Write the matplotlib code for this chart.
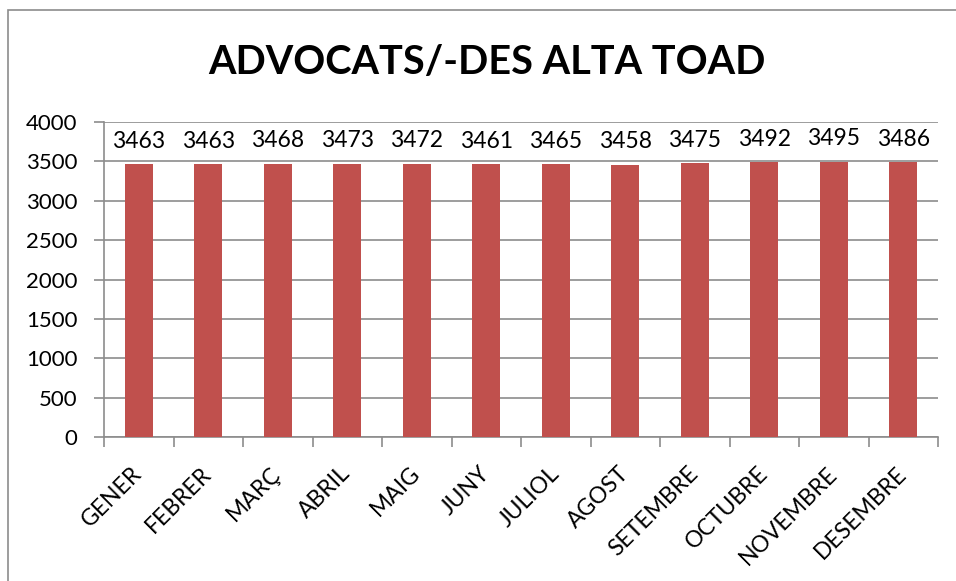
import matplotlib
matplotlib.use('Agg')
import matplotlib.pyplot as plt
from matplotlib.patches import Rectangle

# chart data
months = ['GENER', 'FEBRER', 'MARÇ', 'ABRIL', 'MAIG', 'JUNY', 'JULIOL',
          'AGOST', 'SETEMBRE', 'OCTUBRE', 'NOVEMBRE', 'DESEMBRE']
lawyers = [3463, 3463, 3468, 3473, 3472, 3461, 3465, 3458, 3475, 3492, 3495, 3486]
y_ticks = [0, 500, 1000, 1500, 2000, 2500, 3000, 3500, 4000]
title = 'ADVOCATS/-DES ALTA TOAD'

plt.rcParams['font.family'] = ['Lato', 'DejaVu Sans']

fig = plt.figure(figsize=(9.56, 5.81), dpi=100)
ax = fig.add_axes([104 / 956, 1 - 437 / 581, (938 - 104) / 956, (437 - 122) / 581])

# outer chart border (right and bottom edges fall outside the picture)
fig.patches.append(Rectangle((8 / 956, -0.1), 1.2, 1.1 - 10 / 581,
                             transform=fig.transFigure, fill=False,
                             edgecolor='#8c8c8c', linewidth=1.2))

x = list(range(len(months)))
bars = ax.bar(x, lawyers, width=0.4, color='#C0504D', zorder=3)

for xi, v in zip(x, lawyers):
    ax.annotate(str(v), (xi, v), xytext=(0, 9), textcoords='offset points',
                ha='center', va='bottom', fontsize=16.5)

ax.set_xlim(-0.5, len(months) - 0.5)
ax.set_ylim(0, 4000)
ax.set_yticks(y_ticks)
ax.set_yticklabels([str(t) for t in y_ticks], fontsize=16)
ax.yaxis.grid(True, color='#8c8c8c', linewidth=1.2, zorder=0)

ax.set_xticks(x)
ax.set_xticklabels(months, rotation=45, ha='right', va='center',
                   rotation_mode='anchor', fontsize=16.5)
ax.set_xticks([i - 0.5 for i in range(len(months) + 1)], minor=True)
ax.tick_params(axis='x', which='major', length=0, pad=24)
ax.tick_params(axis='x', which='minor', length=7, color='#8c8c8c', width=1.2)
ax.tick_params(axis='y', length=7, color='#8c8c8c', width=1.2, pad=12)

for s in ['top', 'right']:
    ax.spines[s].set_visible(False)
for s in ['left', 'bottom']:
    ax.spines[s].set_color('#8c8c8c')
    ax.spines[s].set_linewidth(1.2)

fig.text(487 / 956, 1 - 62 / 581, title, ha='center', va='center',
         fontsize=28.5, fontweight='bold')

fig.savefig('out.png', dpi=100)
